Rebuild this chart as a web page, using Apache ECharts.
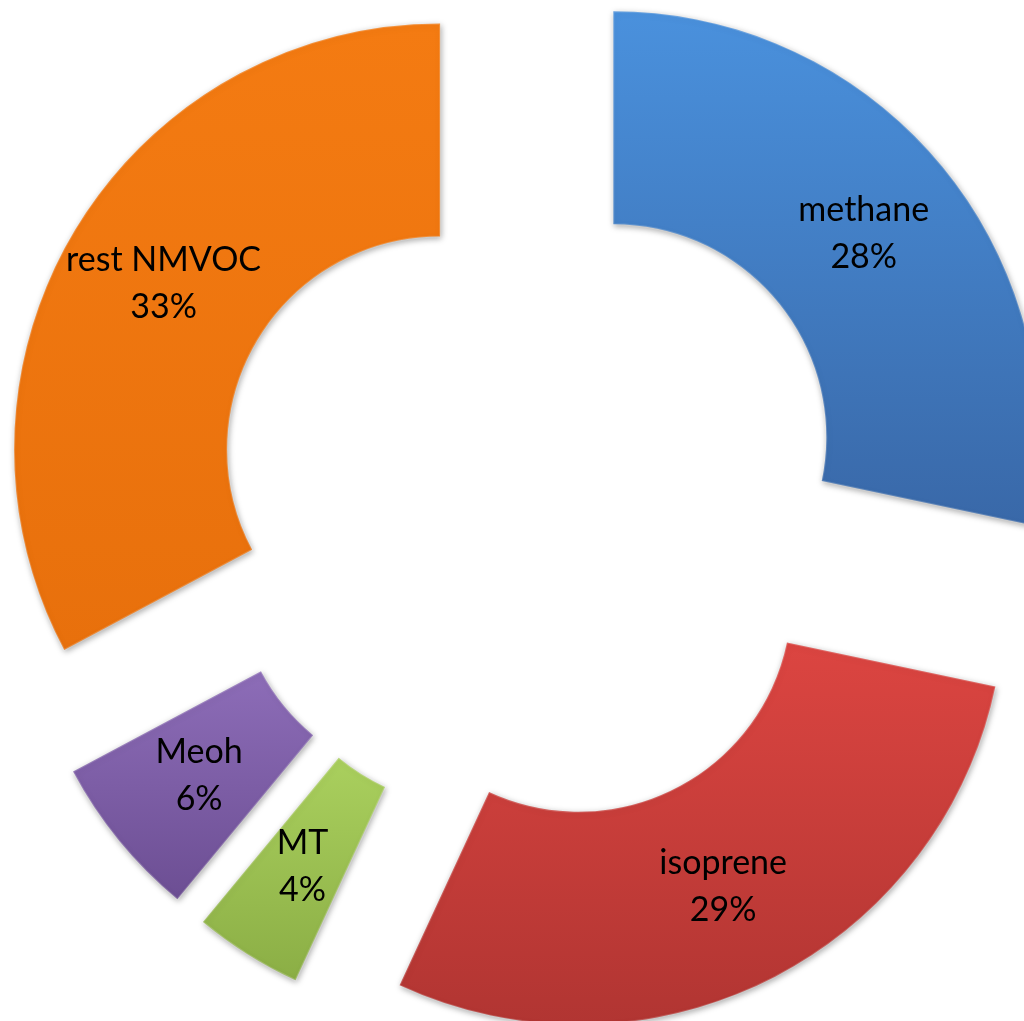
<!DOCTYPE html>
<html>
<head>
<meta charset="utf-8">
<script src="https://cdn.jsdelivr.net/npm/echarts@6/dist/echarts.min.js"></script>
<style>
html,body{margin:0;padding:0;background:#fff;}
#chart{width:1024px;height:1021px;}
</style>
</head>
<body>
<div id="chart"></div>
<script>
var categories = ['methane', 'isoprene', 'MT', 'Meoh', 'rest NMVOC'];
var values = [28.3, 28.6, 4.1, 6.2, 32.8];
var topColors = ['#4A91DD', '#DC4541', '#AAD05E', '#8D6DB8', '#F47B12'];
var bottomColors = ['#3968A8', '#B13532', '#8BAE45', '#6C4E93', '#E8700C'];

var chart = echarts.init(document.getElementById('chart'), null, {renderer: 'canvas'});

var data = categories.map(function (name, i) {
  var style = {
    color: new echarts.graphic.LinearGradient(0, 0, 0, 1, [
      {offset: 0, color: topColors[i]},
      {offset: 1, color: bottomColors[i]}
    ]),
    shadowBlur: 6,
    shadowColor: 'rgba(0,0,0,0.35)',
    shadowOffsetX: 1,
    shadowOffsetY: 2,
    borderColor: 'rgba(255,255,255,0.18)',
    borderWidth: 2
  };
  return {
    name: name,
    value: values[i],
    selected: true,
    itemStyle: style,
    select: {itemStyle: style}
  };
});

chart.setOption({
  animation: false,
  series: [{
    type: 'pie',
    center: [531, 504],
    radius: [213, 426],
    startAngle: 90,
    clockwise: true,
    selectedMode: 'multiple',
    selectedOffset: 106,
    avoidLabelOverlap: false,
    emphasis: {disabled: true},
    label: {
      show: true,
      position: 'inside',
      formatter: function (p) { return p.name + '\n' + Math.round(p.percent) + '%'; },
      color: '#000',
      fontFamily: 'Lato',
      fontSize: 34,
      lineHeight: 47
    },
    labelLine: {show: false},
    data: data
  }]
});
</script>
</body>
</html>
